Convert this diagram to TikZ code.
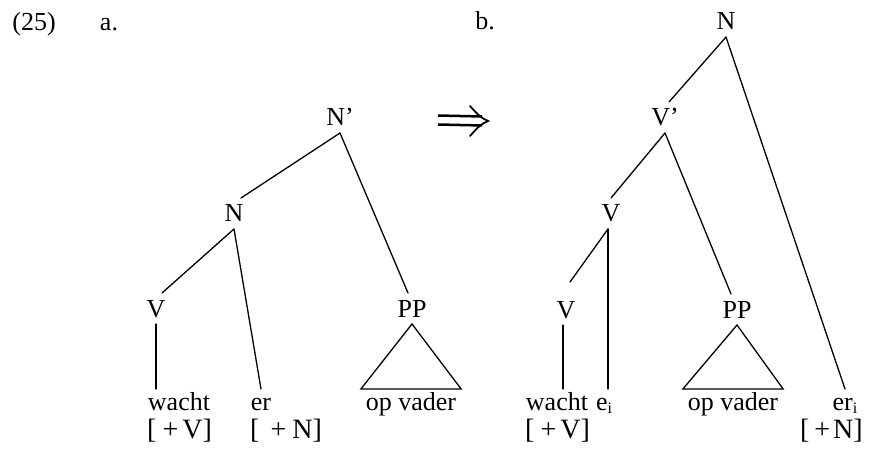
\documentclass[tikz,border=0pt]{standalone}
\usepackage{fontspec}
\setmainfont{Liberation Serif}
\usetikzlibrary{calc}
\tikzset{
  cat/.style={font=\fontsize{26}{30}\selectfont, text height=17pt, text depth=0pt, inner sep=0pt, outer sep=7pt, anchor=base},
  word/.style={font=\fontsize{26}{30}\selectfont, text height=18pt, text depth=0pt, inner sep=0pt, outer xsep=0pt, outer ysep=3pt, anchor=base},
  lbl/.style={font=\fontsize{26}{30}\selectfont, inner sep=0pt, anchor=base},
  featlbl/.style={font=\fontsize{28}{30}\selectfont, inner sep=0pt},
  br/.style={line width=1.3pt, line cap=round},
}
\newcommand{\subi}{\raisebox{-3pt}{\fontsize{16}{16}\selectfont i}}
\newcommand{\feat}[3]{[\hspace{#1}+\hspace{#2}#3]}
\begin{document}
\begin{tikzpicture}[x=1pt,y=-1pt]
\useasboundingbox (0,0) rectangle (869,454);
% headings
\node[lbl] (ex) at (34,31) {(25)};
\node[lbl] (la) at (109,31) {a.};
\node[lbl] (lb) at (485,30) {b.};
% tree a
\node[cat] (Npa) at (340,126) {N'};
\node[cat] (Na) at (234,222) {N};
\node[cat] (Va) at (156,317) {V};
\node[cat] (PPa) at (412,317) {PP};
\node[word] (wachta) at (179,410) {wacht};
\node[word] (era) at (261,410) {er};
\node[word, inner xsep=5pt] (opa) at (411,410) {op vader};
\node[featlbl, anchor=base west] (fva) at (147,438) {\feat{6pt}{4pt}{V}};
\node[featlbl, anchor=base west] (fna) at (250,438) {\feat{11pt}{6pt}{N}};
\draw[br] (Npa.south) -- ([xshift=7pt]Na.north);
\draw[br] (Npa.south) -- ([xshift=-4pt]PPa.north);
\draw[br] (Na.south) -- ([xshift=6pt]Va.north);
\draw[br] (Na.south) -- (era.north);
\draw[br] (Va.south) -- (Va.south |- wachta.north);
\draw[br, line join=miter] (PPa.south) -- (opa.north west) -- (opa.north east) -- cycle;
% arrow
\coordinate (arS) at (438,120);
\coordinate (arE) at (488,121);
\draw[line width=2.5pt] ($(arS)+(0,-4.5)$) -- ($(arE)+(-6,-4.5)$);
\draw[line width=2.5pt] ($(arS)+(0,4.5)$) -- ($(arE)+(-6,4.5)$);
\draw[line width=1.8pt, line cap=round] ($(arE)+(-18,-15)$) .. controls ($(arE)+(-8,-4)$) .. (arE) .. controls ($(arE)+(-8,4)$) .. ($(arE)+(-18,15)$);
% tree b
\node[cat] (Nb) at (726,30) {N};
\node[cat] (Vpb) at (665,126) {V'};
\node[cat] (Vub) at (611,222) {V};
\node[cat] (Vlb) at (566,318) {V};
\node[cat] (PPb) at (737,318) {PP};
\node[word] (wachtb) at (557,410) {wacht};
\node[word] (eib) at (604,410) {e\subi};
\node[word, inner xsep=5pt] (opb) at (733,410) {op vader};
\node[word] (erib) at (845,410) {er\subi};
\node[featlbl, anchor=base west] (fvb) at (525,438) {\feat{6pt}{4pt}{V}};
\node[featlbl, anchor=base east] (fnb) at (863,438) {\feat{5pt}{3pt}{N}};
\draw[br] (Nb.south) -- ([xshift=4pt]Vpb.north);
\draw[br] (Nb.south) -- (erib.north);
\draw[br] (Vpb.south) -- (Vub.north);
\draw[br] (Vpb.south) -- ([xshift=-6pt]PPb.north);
\draw[br] ([xshift=-3pt]Vub.south) -- ([xshift=4pt,yshift=12pt]Vlb.north);
\draw[br] ([xshift=-3pt]Vub.south) -- ([xshift=-3pt]Vub.south |- eib.north);
\draw[br] ([xshift=-3pt]Vlb.south) -- ([xshift=-3pt]Vlb.south |- wachtb.north);
\draw[br, line join=miter] (PPb.south) -- (opb.north west) -- (opb.north east) -- cycle;
\end{tikzpicture}
\end{document}
